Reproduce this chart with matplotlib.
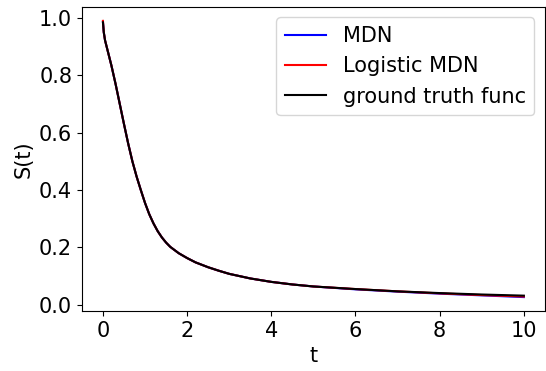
import matplotlib
matplotlib.use("Agg")
import matplotlib.pyplot as plt

t = [0.0, 0.02, 0.05, 0.1, 0.2, 0.3, 0.4, 0.5, 0.6, 0.7, 0.8, 0.9, 1.0, 1.1, 1.2, 1.3,
     1.4, 1.5, 1.6, 1.8, 2.0, 2.2, 2.5, 2.75, 3.0, 3.5, 4.0, 4.5, 5.0, 6.0, 7.0, 8.0, 9.0, 10.0]
s_true = [0.985, 0.95, 0.922, 0.893, 0.835, 0.77, 0.70, 0.63, 0.562, 0.50, 0.447, 0.40,
          0.355, 0.316, 0.284, 0.257, 0.235, 0.217, 0.202, 0.18, 0.163, 0.148, 0.131,
          0.119, 0.108, 0.092, 0.08, 0.071, 0.064, 0.055, 0.047, 0.041, 0.036, 0.032]
s_mdn = [0.985, 0.95, 0.922, 0.893, 0.835, 0.77, 0.70, 0.63, 0.562, 0.50, 0.447, 0.40,
         0.355, 0.316, 0.284, 0.257, 0.235, 0.217, 0.202, 0.18, 0.163, 0.148, 0.131,
         0.119, 0.108, 0.092, 0.08, 0.071, 0.064, 0.054, 0.046, 0.039, 0.033, 0.027]
s_log = [0.99, 0.95, 0.922, 0.893, 0.835, 0.77, 0.70, 0.63, 0.562, 0.50, 0.447, 0.40,
         0.355, 0.316, 0.284, 0.257, 0.235, 0.217, 0.202, 0.18, 0.163, 0.148, 0.131,
         0.119, 0.108, 0.092, 0.08, 0.071, 0.064, 0.055, 0.047, 0.040, 0.034, 0.029]

plt.rcParams['font.size'] = 15
fig = plt.figure(figsize=(5.46, 3.71), dpi=100)
ax = fig.add_axes([0.150, 0.162, 0.848, 0.819])
ax.plot(t, s_mdn, color='blue', label='MDN')
ax.plot(t, s_log, color='red', label='Logistic MDN')
ax.plot(t, s_true, color='black', label='ground truth func')
ax.set_xlabel('t')
ax.set_ylabel('S(t)')
ax.legend(loc='upper right')
fig.savefig('out.png', dpi=100)
